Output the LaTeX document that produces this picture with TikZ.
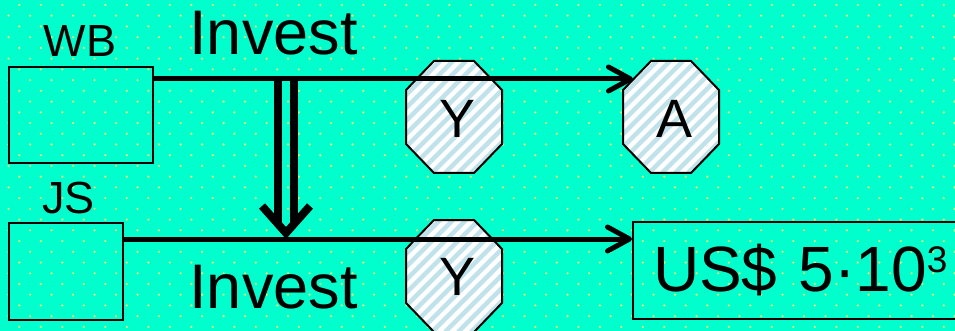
\documentclass[tikz,border=0pt]{standalone}
\usepackage{fontspec}
\setmainfont{Liberation Sans}
\usetikzlibrary{arrows.meta}
\pgfdeclarelayer{bg}
\pgfdeclarelayer{oct}
\pgfsetlayers{bg,oct,main}
\definecolor{aqua}{RGB}{0,255,204}
\definecolor{dotc}{RGB}{215,245,120}
\definecolor{stripec}{RGB}{192,226,234}
\tikzset{
  box/.style={draw=black, line width=2pt, inner sep=0pt, anchor=north west},
  lbl/.style={inner sep=0pt, anchor=base, font=\fontsize{45}{45}\selectfont},
  big/.style={inner sep=0pt, anchor=base, font=\fontsize{63}{63}\selectfont},
  octtext/.style={inner sep=0pt, anchor=base, font=\fontsize{54}{54}\selectfont},
  conn/.style={line width=5pt, -{Straight Barb[length=22pt,width=24pt,round]}},
  octline/.style={line width=2pt, line join=miter},
  dbar/.style={line width=8pt},
}
\newcommand\myoct[2]{%
  \begin{scope}
    \fill[white] ({#1+28},{#2}) -- ({#1+68},{#2}) -- ({#1+96},{#2+29}) -- ({#1+96},{#2+83}) -- ({#1+68},{#2+112}) -- ({#1+28},{#2+112}) -- ({#1},{#2+83}) -- ({#1},{#2+29}) -- cycle;
    \clip ({#1+28},{#2}) -- ({#1+68},{#2}) -- ({#1+96},{#2+29}) -- ({#1+96},{#2+83}) -- ({#1+68},{#2+112}) -- ({#1+28},{#2+112}) -- ({#1},{#2+83}) -- ({#1},{#2+29}) -- cycle;
    \foreach \k in {-10,...,10}{
      \draw[stripec, line width=4.5pt] ({#1+(\k)*13},{#2+112}) -- ++(112,-112);
    }
  \end{scope}
  \draw[octline] ({#1+28},{#2}) -- ({#1+68},{#2}) -- ({#1+96},{#2+29}) -- ({#1+96},{#2+83}) -- ({#1+68},{#2+112}) -- ({#1+28},{#2+112}) -- ({#1},{#2+83}) -- ({#1},{#2+29}) -- cycle;
}
\newcommand\supthree{\raisebox{19pt}{\fontsize{37}{37}\selectfont 3}}
\begin{document}
\begin{tikzpicture}[x=1pt, y=-1pt]
\path[use as bounding box] (0,0) rectangle (955,331);
\clip (0,0) rectangle (955,331);
\begin{pgfonlayer}{bg}
  \fill[aqua] (0,0) rectangle (955,331);
  \foreach \m in {0,...,30}{
    \pgfmathsetmacro\yy{5+10.73*\m}
    \pgfmathsetmacro\xo{isodd(\m) ? 8.55 : 19.3}
    \foreach \k in {0,...,44}{
      \fill[dotc] ({\xo+21.5*\k},\yy) circle (1.3pt);
    }
  }
\end{pgfonlayer}
\begin{pgfonlayer}{oct}
  \myoct{406}{61}
  \myoct{623}{61}
  \myoct{406}{220}
\end{pgfonlayer}

% boxes
\node[box, minimum width=144pt, minimum height=96pt] (WB) at (8,66) {};
\node[box, minimum width=114pt, minimum height=97pt] (JS) at (8,222) {};
\node[box, minimum width=340pt, minimum height=97pt, inner xsep=18pt, text width=300pt, align=left,
      font=\fontsize{64}{64}\selectfont] (USD) at (632,221) {US\$ 5·10\supthree};

% labels
\node[lbl] (WBl) at (80,57) {WB};
\node[lbl] (JSl) at (68.5,213) {JS};
\node[big] (inv1) at (273.5,55) {Invest};
\node[big] (inv2) at (273.5,308) {Invest};

% octagon texts
\node[octtext] (Y1) at (457.5,138) {Y};
\node[octtext] (A) at (674.5,138) {A};
\node[octtext] (Y2) at (457.5,295) {Y};

% connectors
\coordinate (atip) at (633,79);
\draw[conn] ([yshift=-13pt]WB.north east) -- (atip);
\draw[conn] ([yshift=-17pt]JS.north east) -- ([yshift=-18pt]USD.north west);

% double arrow
\coordinate (dtop) at (286,81);
\coordinate (dbot) at (286,236);
\draw[dbar] ([xshift=-8pt]dtop) -- ([xshift=-8pt,yshift=10pt]dbot);
\draw[dbar] ([xshift=8pt]dtop) -- ([xshift=8pt,yshift=10pt]dbot);
\draw[dbar, line join=miter] ([xshift=-24pt,yshift=30pt]dbot) -- ([yshift=3pt]dbot) -- ([xshift=24pt,yshift=30pt]dbot);
\end{tikzpicture}
\end{document}
